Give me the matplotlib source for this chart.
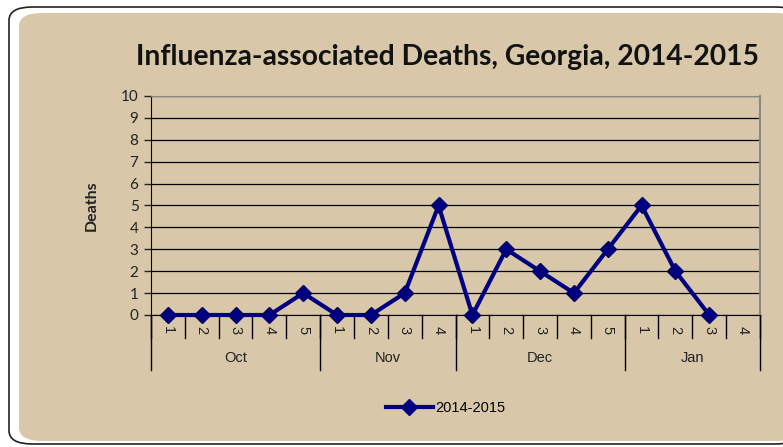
import numpy as np
import matplotlib.pyplot as plt
from matplotlib.patches import FancyBboxPatch
from matplotlib.lines import Line2D

# dane
miesiace = ["Oct", "Nov", "Dec", "Jan"]
tygodnie = [5, 4, 5, 4]
zgony = [0, 0, 0, 0, 1,
         0, 0, 1, 5,
         0, 3, 2, 1, 3,
         5, 2, 0, np.nan]
seria = "2014-2015"

etykiety = []
for n in tygodnie:
    etykiety += [str(i + 1) for i in range(n)]
x = np.arange(len(zgony))

fig = plt.figure(figsize=(7.83, 4.47), dpi=100)
fig.patch.set_facecolor("white")

# tlo wykresu
ramka = FancyBboxPatch((9 / 783, 3 / 447), 790 / 783, 437 / 447,
                       boxstyle="round,pad=0,rounding_size=0.03",
                       transform=fig.transFigure, facecolor="white",
                       edgecolor="#222222", linewidth=1.2, zorder=-2)
fig.patches.append(ramka)
tlo = FancyBboxPatch((19 / 783, 6 / 447), 780 / 783, 428 / 447,
                     boxstyle="round,pad=0,rounding_size=0.03",
                     transform=fig.transFigure, facecolor="#D8C8A9",
                     edgecolor="none", zorder=-1)
fig.patches.append(tlo)

ax = fig.add_axes([151 / 783, 1 - 315 / 447, 609 / 783, 219 / 447])
ax.set_facecolor("none")
ax.plot(x, zgony, color="#000080", linewidth=3, marker="D", markersize=8,
        markerfacecolor="#000080", markeredgecolor="#000060", zorder=3,
        clip_on=False)

ax.set_xlim(-0.5, len(zgony) - 0.5)
ax.set_ylim(0, 10)
ax.set_yticks(range(11))
ax.yaxis.grid(True, color="black", linewidth=0.9)
ax.set_axisbelow(True)
ax.tick_params(axis="y", direction="out", length=5, width=1, labelsize=11,
               colors="#222222", pad=4)
for t in ax.get_yticklabels():
    t.set_family(["Lato", "DejaVu Sans"])
ax.set_xticks([])
ax.spines["left"].set_color("black")
ax.spines["bottom"].set_color("black")
ax.spines["top"].set_color("#888888")
ax.spines["right"].set_color("#888888")
ax.spines["right"].set_linewidth(1.5)

ax.set_ylabel("Deaths", fontsize=11.5, fontweight="bold", family=["Lato", "DejaVu Sans"],
              color="#222222", labelpad=16)

# etykiety tygodni i miesiecy
trans = ax.get_xaxis_transform()
for i, lab in enumerate(etykiety):
    ax.text(x[i], -0.07, lab, transform=trans, rotation=270, ha="center", va="center",
            fontsize=10.5, family=["Liberation Sans", "DejaVu Sans"], color="#222222")
for i in range(len(zgony) + 1):
    ax.plot([i - 0.5, i - 0.5], [0, -0.105], transform=trans, color="black",
            linewidth=1, clip_on=False)
granice = np.concatenate([[0], np.cumsum(tygodnie)])
for j, m in enumerate(miesiace):
    ax.plot([granice[j] - 0.5] * 2, [0, -0.25], transform=trans, color="black",
            linewidth=1, clip_on=False)
    srodek = (granice[j] + granice[j + 1] - 1) / 2
    ax.text(srodek, -0.195, m, transform=trans, ha="center", va="center",
            fontsize=10.5, family=["Liberation Sans", "DejaVu Sans"], color="#222222")
ax.plot([granice[-1] - 0.5] * 2, [0, -0.25], transform=trans, color="black",
        linewidth=1, clip_on=False)

fig.text(448 / 783, 1 - 57 / 447, "Influenza-associated Deaths, Georgia, 2014-2015",
         ha="center", va="center", fontsize=20.3, fontweight="bold",
         family=["Lato", "DejaVu Sans"], color="#111111")

uchwyt = Line2D([], [], color="#000080", linewidth=3, marker="D", markersize=8)
fig.legend([uchwyt], [seria], loc="center", bbox_to_anchor=(446 / 783, 1 - 408 / 447),
           frameon=False, handlelength=3.2, handletextpad=0.2,
           prop={"family": ["Liberation Sans", "DejaVu Sans"], "size": 10.5})

fig.savefig("out.png", dpi=100, facecolor=fig.get_facecolor())
